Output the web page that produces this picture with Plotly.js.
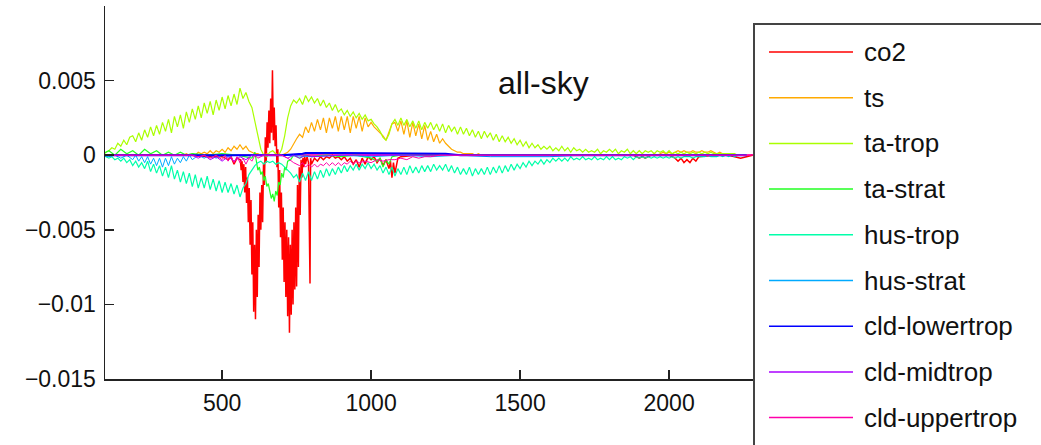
<!DOCTYPE html>
<html>
<head>
<meta charset="utf-8">
<script src="https://cdn.plot.ly/plotly-3.0.1.min.js"></script>
<style>
  html, body { margin: 0; padding: 0; background: #fff; }
  #chart { width: 1041px; height: 445px; }
</style>
</head>
<body>
<div id="chart"></div>
<script>
// Spectral radiative kernel contributions (all-sky), wavenumber in cm-1

// shared wavenumber grid for ts, ta-trop and hus-trop
const wavenumber = [
  100,110,120,130,140,150,160,170,180,190,
  200,210,220,230,240,250,260,270,280,290,
  300,310,320,330,340,350,360,370,380,390,
  400,410,420,430,440,450,460,470,480,490,
  500,510,520,530,540,550,560,570,580,590,
  600,610,620,630,640,650,660,670,680,690,
  700,710,720,730,740,750,760,770,780,790,
  800,810,820,830,840,850,860,870,880,890,
  900,910,920,930,940,950,960,970,980,990,
  1000,1010,1020,1030,1040,1050,1060,1070,1080,1090,
  1100,1110,1120,1130,1140,1150,1160,1170,1180,1190,
  1200,1210,1220,1230,1240,1250,1260,1270,1280,1290,
  1300,1310,1320,1330,1340,1350,1360,1370,1380,1390,
  1400,1410,1420,1430,1440,1450,1460,1470,1480,1490,
  1500,1510,1520,1530,1540,1550,1560,1570,1580,1590,
  1600,1610,1620,1630,1640,1650,1660,1670,1680,1690,
  1700,1710,1720,1730,1740,1750,1760,1770,1780,1790,
  1800,1810,1820,1830,1840,1850,1860,1870,1880,1890,
  1900,1910,1920,1930,1940,1950,1960,1970,1980,1990,
  2000,2010,2020,2030,2040,2050,2060,2070,2080,2090,
  2100,2110,2120,2130,2140,2150,2160,2170,2180,2190,
  2200,2210,2220,2230,2240,2250,2260
];

const ts = [
  0,0,0,0,0,0,0,0,0,0,
  0,0,0,0,0,0,0,0,0,0,
  0,0,0,0,0,0,0,0,0.0001,0,
  0.0001,0,0.0002,0.0001,0.0002,0.0001,0.0003,0.0001,0.0003,0.0002,
  0.0004,0.0002,0.0005,0.0003,0.0006,0.0004,0.0007,0.0004,0.0006,0.0003,
  0.0002,0.0001,0.0001,0,0,0.0001,0,0,0.0001,0,
  0,0.0001,0.0002,0.0004,0.0008,0.0011,0.0014,0.0012,0.0019,0.0015,
  0.0022,0.0016,0.0024,0.0017,0.0025,0.0015,0.0025,0.0018,0.0026,0.0016,
  0.0026,0.0017,0.0026,0.0015,0.0026,0.0018,0.0026,0.0016,0.0025,0.0019,
  0.0022,0.0019,0.0017,0.0015,0.0013,0.0010,0.0016,0.0021,0.0022,0.0016,
  0.0023,0.0014,0.0023,0.0012,0.0022,0.0013,0.0021,0.0011,0.0020,0.0010,
  0.0016,0.0009,0.0014,0.0008,0.0011,0.0008,0.0006,0.0004,0.0003,0.0002,
  0.0002,0.0001,0.0001,0.0001,0.0001,0,0.0001,0,0,0,
  0,0,0,0,0,0,0,0,0,0,
  0,0,0,0,0,0,0,0,0,0,
  0,0,0,0,0,0,0,0,0,0,
  0,0,0,0,0,0,0,0,0,0,
  0,0,0,0,0,0,0,0,0,0,
  0,0,0,0,0,0.0001,0,0.0001,0.0002,0.0001,
  0.0002,0.0001,0.0002,0.0003,0.0002,0.0003,0.0002,0.0002,0.0003,0.0002,
  0.0002,0.0003,0.0002,0.0002,0.0003,0.0002,0.0001,0.0002,0.0001,0.0001,
  0.0001,0.0001,0,0,0,0,0
];

const taTrop = [
  0,0.0002,0.0003,0.0005,0.0004,0.0008,0.0006,0.0010,0.0007,0.0012,
  0.0013,0.0009,0.0015,0.0010,0.0017,0.0012,0.0019,0.0013,0.0020,0.0014,
  0.0022,0.0016,0.0024,0.0015,0.0026,0.0019,0.0027,0.0018,0.0029,0.0022,
  0.0031,0.0024,0.0033,0.0025,0.0035,0.0028,0.0036,0.0027,0.0037,0.0030,
  0.0039,0.0031,0.0040,0.0033,0.0041,0.0034,0.0045,0.0038,0.0042,0.0036,
  0.0032,0.0022,0.0012,0.0004,0,-0.0001,0.0002,0.0003,0.0001,0,
  0.0004,0.0013,0.0025,0.0033,0.0037,0.0035,0.0038,0.0034,0.0040,0.0036,
  0.0039,0.0035,0.0038,0.0033,0.0037,0.0032,0.0035,0.0030,0.0034,0.0029,
  0.0031,0.0027,0.0030,0.0026,0.0029,0.0025,0.0028,0.0024,0.0027,0.0023,
  0.0024,0.0021,0.0019,0.0016,0.0012,0.0010,0.0014,0.0021,0.0024,0.0020,
  0.0025,0.0020,0.0024,0.0019,0.0023,0.0018,0.0023,0.0017,0.0022,0.0018,
  0.0022,0.0017,0.0021,0.0016,0.0021,0.0015,0.0020,0.0016,0.0019,0.0014,
  0.0019,0.0014,0.0018,0.0013,0.0017,0.0012,0.0016,0.0011,0.0016,0.0012,
  0.0015,0.0010,0.0014,0.0009,0.0013,0.0009,0.0012,0.0008,0.0011,0.0007,
  0.0010,0.0006,0.0009,0.0005,0.0008,0.0005,0.0007,0.0004,0.0006,0.0004,
  0.0006,0.0003,0.0005,0.0003,0.0006,0.0003,0.0005,0.0002,0.0005,0.0003,
  0.0004,0.0002,0.0004,0.0002,0.0003,0.0002,0.0004,0.0001,0.0003,0.0002,
  0.0004,0.0002,0.0004,0.0001,0.0003,0.0002,0.0004,0.0001,0.0003,0.0001,
  0.0003,0.0001,0.0003,0.0002,0.0003,0.0001,0.0003,0.0002,0.0003,0.0001,
  0.0003,0.0001,0.0002,0.0001,0.0002,0.0001,0.0002,0.0001,0.0002,0.0001,
  0.0002,0.0001,0.0002,0.0001,0.0002,0.0001,0.0001,0.0001,0.0001,0.0001,
  0.0001,0.0001,0.0001,0,0,0,0
];

const husTrop = [
  0,-0.0001,-0.0002,-0.0001,-0.0003,-0.0002,-0.0004,-0.0002,-0.0005,-0.0003,
  -0.0007,-0.0004,-0.0008,-0.0005,-0.0009,-0.0004,-0.0011,-0.0006,-0.0012,-0.0007,
  -0.0014,-0.0008,-0.0015,-0.0007,-0.0016,-0.0010,-0.0018,-0.0011,-0.0019,-0.0012,
  -0.0021,-0.0013,-0.0022,-0.0015,-0.0022,-0.0014,-0.0023,-0.0016,-0.0024,-0.0017,
  -0.0025,-0.0018,-0.0025,-0.0019,-0.0026,-0.0020,-0.0028,-0.0022,-0.0019,-0.0013,
  -0.0010,-0.0007,-0.0005,-0.0004,-0.0006,-0.0004,-0.0005,-0.0004,-0.0006,-0.0005,
  -0.0006,-0.0008,-0.0010,-0.0012,-0.0015,-0.0013,-0.0018,-0.0012,-0.0017,-0.0011,
  -0.0017,-0.0011,-0.0016,-0.0010,-0.0015,-0.0009,-0.0014,-0.0009,-0.0013,-0.0008,
  -0.0012,-0.0007,-0.0011,-0.0007,-0.0010,-0.0006,-0.0010,-0.0006,-0.0009,-0.0005,
  -0.0009,-0.0006,-0.0010,-0.0007,-0.0012,-0.0008,-0.0013,-0.0008,-0.0014,-0.0009,
  -0.0013,-0.0008,-0.0013,-0.0007,-0.0012,-0.0008,-0.0012,-0.0007,-0.0011,-0.0007,
  -0.0011,-0.0006,-0.0010,-0.0007,-0.0010,-0.0006,-0.0011,-0.0007,-0.0012,-0.0008,
  -0.0013,-0.0009,-0.0013,-0.0008,-0.0014,-0.0009,-0.0013,-0.0009,-0.0013,-0.0008,
  -0.0013,-0.0008,-0.0012,-0.0007,-0.0012,-0.0007,-0.0011,-0.0006,-0.0010,-0.0006,
  -0.0009,-0.0005,-0.0008,-0.0004,-0.0007,-0.0004,-0.0006,-0.0003,-0.0006,-0.0003,
  -0.0005,-0.0002,-0.0004,-0.0002,-0.0004,-0.0002,-0.0004,-0.0001,-0.0003,-0.0002,
  -0.0003,-0.0001,-0.0003,-0.0002,-0.0003,-0.0001,-0.0003,-0.0002,-0.0003,-0.0001,
  -0.0003,-0.0001,-0.0003,-0.0002,-0.0003,-0.0001,-0.0002,-0.0001,-0.0003,-0.0001,
  -0.0002,-0.0001,-0.0002,-0.0001,-0.0002,-0.0001,-0.0002,-0.0001,-0.0002,-0.0001,
  -0.0002,-0.0001,-0.0002,-0.0001,-0.0002,-0.0001,-0.0001,-0.0001,-0.0002,-0.0001,
  -0.0001,-0.0001,-0.0001,0,-0.0001,-0.0001,-0.0001,0,-0.0001,0,
  -0.0001,0,-0.0001,0,0,0,0
];

// co2: finer sampling through the 15-micron band
const co2Wn = [
  100,200,300,400,450,500,520,530,540,550,
  561,564,567,570,573,576,579,582,585,588,
  591,594,597,600,603,606,609,612,615,618,
  621,624,627,630,633,636,639,642,645,648,
  651,654,657,660,663,666,669,672,675,678,
  681,684,687,690,693,696,699,702,705,708,
  711,714,717,720,723,726,729,732,735,738,
  741,744,747,750,753,756,759,762,765,768,
  771,774,777,780,785,790,795,797,800,810,
  820,830,840,850,860,870,880,890,900,910,
  920,930,940,950,960,970,980,990,1000,1010,
  1020,1030,1040,1050,1060,1065,1070,1075,1080,1090,
  1100,1150,1200,1300,1400,1500,1600,1700,1800,1880,
  1900,1910,1920,1940,2000,2020,2030,2040,2050,2060,
  2070,2080,2090,2100,2150,2200,2220,2240,2260,2280
];
const co2 = [
  0,0,0,0,-0.0001,-0.0001,-0.0003,-0.0001,-0.0006,-0.0002,
  -0.0003,-0.0010,-0.0004,-0.0018,-0.0006,-0.0025,-0.0008,-0.0032,-0.0015,-0.0045,
  -0.0022,-0.0060,-0.0030,-0.0080,-0.0045,-0.0105,-0.0060,-0.0110,-0.0050,-0.0095,
  -0.0040,-0.0075,-0.0025,-0.0050,-0.0020,-0.0045,-0.0005,-0.0020,0.0012,-0.0005,
  0.0022,0.0005,0.0030,0.0008,0.0038,0.0015,0.0057,0.0010,0.0032,0.0006,
  0.0020,-0.0008,0.0004,-0.0035,-0.0010,-0.0055,-0.0025,-0.0070,-0.0035,-0.0085,
  -0.0045,-0.0095,-0.0050,-0.0108,-0.0055,-0.0119,-0.0060,-0.0107,-0.0050,-0.0100,
  -0.0045,-0.0090,-0.0035,-0.0088,-0.0020,-0.0075,-0.0008,-0.0040,-0.0003,-0.0015,
  -0.0002,-0.0008,0,-0.0006,-0.0001,-0.0005,-0.0086,-0.0002,-0.0006,-0.0002,
  -0.0004,-0.0001,-0.0003,-0.0001,-0.0002,0,-0.0002,-0.0001,-0.0003,-0.0001,
  -0.0004,-0.0002,-0.0006,-0.0003,-0.0008,-0.0002,-0.0006,-0.0001,-0.0003,-0.0001,
  -0.0005,-0.0002,-0.0007,-0.0003,-0.0009,-0.0004,-0.0015,-0.0005,-0.0012,-0.0002,
  -0.0001,0,0,0,0,0,0,0,0,0,
  -0.0002,-0.0001,-0.0002,0,0,-0.0002,-0.0004,-0.0002,-0.0005,-0.0003,
  -0.0005,-0.0002,-0.0004,-0.0001,0,0,-0.0001,-0.0002,-0.0001,0
];

const taStratWn = [
  100,120,140,160,180,200,220,240,260,280,
  300,320,340,360,380,400,450,500,550,600,
  610,620,625,630,635,640,645,650,655,660,
  665,670,675,680,685,690,695,700,705,710,
  715,720,730,740,760,780,800,850,900,950,
  1000,1020,1030,1040,1050,1060,1070,1100,1300,1600,
  2000,2260
];
const taStrat = [
  0.0001,0.0003,0,0.0004,0.0001,0.0003,0,0.0004,0.0001,0.0003,
  0,0.0002,0,0.0002,0,0.0001,0,0.0001,0,-0.0002,
  0.0002,-0.0010,-0.0008,-0.0013,-0.0011,-0.0017,-0.0014,-0.0021,-0.0019,-0.0025,
  -0.0029,-0.0026,-0.0031,-0.0024,-0.0027,-0.0018,-0.0020,-0.0012,-0.0015,-0.0008,
  -0.0010,-0.0004,-0.0003,0,-0.0002,0,-0.0001,0,-0.0001,0,
  -0.0002,-0.0004,-0.0002,-0.0008,-0.0003,-0.0006,-0.0001,0,0,0,
  0,0
];

const husStratWn = [
  100,120,140,160,180,200,210,220,230,240,
  250,260,270,280,290,300,310,320,330,340,
  350,360,370,380,390,400,420,440,460,480,
  500,520,540,600,700,800,900,1000,1100,1200,
  1300,1400,1500,1600,1700,1800,2000,2260
];
const husStrat = [
  0,-0.0001,0,-0.0002,0,-0.0003,0,-0.0004,-0.0001,-0.0005,
  -0.0001,-0.0006,-0.0002,-0.0007,-0.0002,-0.0008,-0.0002,-0.0007,-0.0001,-0.0006,
  -0.0002,-0.0005,-0.0001,-0.0004,0,-0.0003,0,-0.0002,0,-0.0002,
  0,-0.0001,0,0,0,-0.0001,0,-0.0001,0,-0.0001,
  0,-0.0001,-0.0001,-0.0001,0,0,0,0
];

const cldLowWn = [100,500,700,770,780,900,1000,1100,1200,1250,1300,1500,2260];
const cldLow   = [0,0,0,0.0001,0.00015,0.00015,0.00015,0.00015,0.00015,0.0001,0,0,0];

const cldMidWn = [100,400,420,440,460,480,500,520,540,560,580,600,700,720,740,760,780,800,900,1200,2260];
const cldMid   = [0,0,-0.0002,0,-0.0003,-0.0001,-0.0004,-0.0001,-0.0004,-0.0001,-0.0003,0,0,-0.0002,0,-0.0002,0,-0.0001,0,0,0];

const cldUpWn = [
  100,400,420,440,460,480,500,510,520,530,
  540,550,560,570,580,590,600,610,620,640,
  700,720,740,760,770,780,790,800,810,820,
  830,840,850,860,870,880,890,900,910,920,
  930,940,950,960,980,1000,1020,1040,1060,1080,
  1100,1120,1140,1160,1180,1200,1230,1500,2280
];
const cldUp = [
  0,0,-0.0001,0,-0.0002,0,-0.0003,0,-0.0004,-0.0001,
  -0.0005,-0.0001,-0.0005,-0.0002,-0.0006,-0.0002,-0.0004,0,-0.0002,0,
  0,-0.0002,-0.0005,-0.0007,-0.0005,-0.0008,-0.0006,-0.0008,-0.0006,-0.0008,
  -0.0006,-0.0007,-0.0005,-0.0007,-0.0005,-0.0007,-0.0005,-0.0007,-0.0005,-0.0006,
  -0.0004,-0.0006,-0.0004,-0.0005,-0.0004,-0.0005,-0.0003,-0.0004,-0.0003,-0.0003,
  -0.0002,-0.0003,-0.0001,-0.0002,-0.0001,-0.0001,0,0,0
];

const seriesNames = ['co2','ts','ta-trop','ta-strat','hus-trop','hus-strat','cld-lowertrop','cld-midtrop','cld-uppertrop'];
const seriesColors = ['#ff0000','#ffaa00','#aaff00','#22ff22','#00ffaa','#00aaff','#0000ff','#aa00ff','#ff00aa'];
const seriesWidths = [1.5, 1.2, 1.2, 1.2, 1.2, 1, 2, 1, 1];
const seriesX = [co2Wn, wavenumber, wavenumber, taStratWn, wavenumber, husStratWn, cldLowWn, cldMidWn, cldUpWn];
const seriesY = [co2, ts, taTrop, taStrat, husTrop, husStrat, cldLow, cldMid, cldUp];

const yTickVals = [0.005, 0, -0.005, -0.01, -0.015];
const yTickText = ['0.005', '0', '\u22120.005', '\u22120.01', '\u22120.015'];
const xTickVals = [500, 1000, 1500, 2000];

// page geometry (pixels) for the plot frame and the key panel
const W = 1041, H = 445;
const M = { l: 105, r: 287, t: 6, b: 66 };
const plotW = W - M.l - M.r, plotH = H - M.t - M.b;
const px = x => (x - M.l) / plotW;
const py = y => (H - M.b - y) / plotH;

const sans = '"Liberation Sans", Arial, sans-serif';

const traces = seriesNames.map((name, i) => ({
  type: 'scatter',
  mode: 'lines',
  name: name,
  x: seriesX[i],
  y: seriesY[i],
  line: { color: seriesColors[i], width: seriesWidths[i] },
  showlegend: false,
  hoverinfo: 'skip'
}));

// key panel: framed box with a long colour stroke and label per series
const shapes = [{
  type: 'rect', xref: 'paper', yref: 'paper',
  x0: px(754), x1: px(1060), y0: py(470), y1: py(24),
  line: { color: '#444', width: 2 }, fillcolor: 'rgba(0,0,0,0)', layer: 'above'
}];
const annotations = [{
  text: 'all-sky', xref: 'paper', yref: 'paper',
  x: px(543), y: py(83), xanchor: 'center', yanchor: 'middle',
  showarrow: false, font: { family: sans, size: 32, color: '#111' }
}];
seriesNames.forEach((name, i) => {
  const rowY = 52 + i * 45.7;
  shapes.push({
    type: 'line', xref: 'paper', yref: 'paper',
    x0: px(769), x1: px(853), y0: py(rowY), y1: py(rowY),
    line: { color: seriesColors[i], width: 1.5 }, layer: 'above'
  });
  annotations.push({
    text: name, xref: 'paper', yref: 'paper',
    x: px(862), y: py(rowY), xanchor: 'left', yanchor: 'middle',
    showarrow: false, font: { family: sans, size: 26, color: '#111' }
  });
});

const layout = {
  width: W, height: H,
  margin: M,
  paper_bgcolor: '#fff', plot_bgcolor: '#fff',
  showlegend: false,
  xaxis: {
    range: [107, 2285],
    tickvals: xTickVals,
    ticks: 'inside', ticklen: 9, tickwidth: 1.5, tickcolor: '#222',
    showline: true, linecolor: '#222', linewidth: 1.5,
    showgrid: false, zeroline: false,
    ticklabelstandoff: 3,
    tickfont: { family: sans, size: 23, color: '#111' }
  },
  yaxis: {
    range: [-0.015, 0.01],
    tickvals: yTickVals, ticktext: yTickText,
    ticks: 'inside', ticklen: 9, tickwidth: 1.5, tickcolor: '#222',
    showline: true, linecolor: '#222', linewidth: 1.5,
    showgrid: false,
    zeroline: true, zerolinecolor: '#ff22bb', zerolinewidth: 1.5,
    ticklabelstandoff: 3,
    tickfont: { family: sans, size: 23, color: '#111' }
  },
  shapes: shapes,
  annotations: annotations
};

Plotly.newPlot('chart', traces, layout, { staticPlot: true, displayModeBar: false });
</script>
</body>
</html>
